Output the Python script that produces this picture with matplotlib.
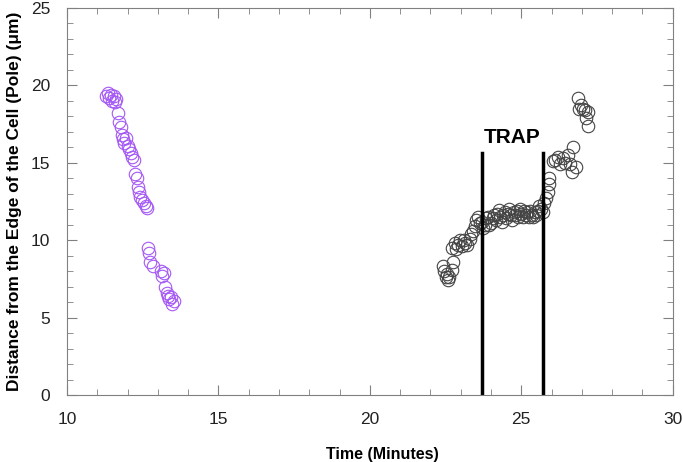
import matplotlib
matplotlib.use("Agg")
import matplotlib.pyplot as plt
from matplotlib.ticker import MultipleLocator

# purple track (moving towards the pole)
purple_x = [11.30, 11.35, 11.40, 11.45, 11.50, 11.55, 11.60, 11.62, 11.68, 11.72,
            11.78, 11.82, 11.86, 11.90, 11.95, 12.00, 12.05, 12.10, 12.15, 12.20,
            12.25, 12.30, 12.33, 12.38, 12.42, 12.48, 12.55, 12.60, 12.65,
            12.68, 12.70, 12.75, 12.85, 13.10, 13.15, 13.20, 13.25, 13.30, 13.32,
            13.38, 13.42, 13.48, 13.52]
purple_y = [19.3, 19.5, 19.2, 19.4, 19.0, 19.3, 18.9, 19.1, 18.2, 17.6,
            17.3, 16.8, 16.5, 16.3, 16.6, 16.1, 15.9, 15.6, 15.4, 15.2,
            14.3, 14.0, 13.4, 13.1, 12.8, 12.6, 12.4, 12.2, 12.1,
            9.5, 9.2, 8.6, 8.3, 8.0, 7.7, 7.9, 7.0, 6.6, 6.4,
            6.2, 6.3, 5.9, 6.1]

# black track
black_x = [22.42, 22.46, 22.50, 22.55, 22.58, 22.62, 22.70, 22.75, 22.70, 22.80,
           22.85, 22.92, 22.97, 23.05, 23.10, 23.13, 23.20, 23.30, 23.35, 23.40,
           23.47, 23.52, 23.57, 23.63, 23.70, 23.75, 23.80, 23.85, 23.90, 23.95,
           24.00, 24.05, 24.10, 24.15, 24.20, 24.25, 24.30, 24.35, 24.40, 24.45,
           24.50, 24.55, 24.60, 24.65, 24.70, 24.75, 24.80, 24.85, 24.90, 24.95,
           25.00, 25.05, 25.10, 25.15, 25.20, 25.25, 25.30, 25.35, 25.40, 25.45,
           25.50, 25.55, 25.60, 25.65, 25.70, 25.75, 25.80, 25.87, 25.90, 25.93,
           26.05, 26.10, 26.20, 26.27, 26.38, 26.45, 26.55, 26.60, 26.66, 26.70,
           26.82, 26.90, 26.87, 26.98, 27.05, 27.10, 27.20, 27.15, 27.20]
black_y = [8.3, 8.0, 7.6, 7.8, 7.4, 7.6, 8.1, 8.6, 9.5, 9.8,
           9.4, 9.7, 10.0, 9.6, 10.0, 9.8, 9.7, 10.1, 10.4, 10.6,
           10.9, 11.3, 11.5, 11.1, 11.2, 10.8, 11.0, 11.4, 11.5, 11.0,
           11.1, 11.4, 11.6, 11.3, 11.7, 11.95, 11.5, 11.2, 11.6, 11.8,
           11.4, 11.7, 12.0, 11.6, 11.3, 11.8, 11.6, 11.9, 11.5, 12.0,
           11.7, 11.5, 11.9, 11.6, 11.8, 11.5, 11.9, 11.6, 11.5, 11.8,
           11.6, 11.9, 12.2, 12.0, 11.8, 12.4, 12.7, 13.1, 13.6, 14.0,
           15.1, 15.2, 15.4, 14.9, 15.3, 15.0, 15.5, 14.9, 14.4, 16.0,
           14.7, 18.5, 19.2, 18.7, 18.5, 18.4, 18.3, 17.9, 17.4]

trap_x = [23.69, 25.72]
trap_top = 15.65

plt.rcParams['font.family'] = ['Liberation Sans', 'DejaVu Sans']

fig = plt.figure(figsize=(6.83, 4.62), dpi=100)
ax = fig.add_axes([0.098, 0.145, 0.887, 0.838])

ax.plot(purple_x, purple_y, 'o', ms=9, mfc='none', mec='#a458f4', mew=0.8)
ax.plot(black_x, black_y, 'o', ms=9, mfc='none', mec='#444444', mew=0.8)

for x in trap_x:
    ax.plot([x, x], [0, trap_top], color='black', lw=2.5)
ax.text(sum(trap_x) / 2, 16.0, 'TRAP', ha='center', va='bottom',
        fontsize=15, fontweight='bold')

ax.set_xlim(10, 30)
ax.set_ylim(0, 25)
ax.xaxis.set_major_locator(MultipleLocator(5))
ax.xaxis.set_minor_locator(MultipleLocator(1))
ax.yaxis.set_major_locator(MultipleLocator(5))
ax.yaxis.set_minor_locator(MultipleLocator(1))
ax.tick_params(which='both', direction='in', top=True, right=True,
               color='#808080', labelsize=12.5, labelcolor='#222222')
ax.tick_params(which='major', length=7, pad=12)
ax.tick_params(which='minor', length=4)
for s in ax.spines.values():
    s.set_color('#808080')

ax.set_xlabel('Time (Minutes)', fontsize=11.5, fontweight='bold', labelpad=12)
ax.xaxis.set_label_coords(0.52, -0.135)
ax.set_ylabel('Distance from the Edge of the Cell (Pole) (\u03bcm)', fontsize=12.5,
              fontweight='bold', labelpad=6)

fig.savefig('out.png', dpi=100)
